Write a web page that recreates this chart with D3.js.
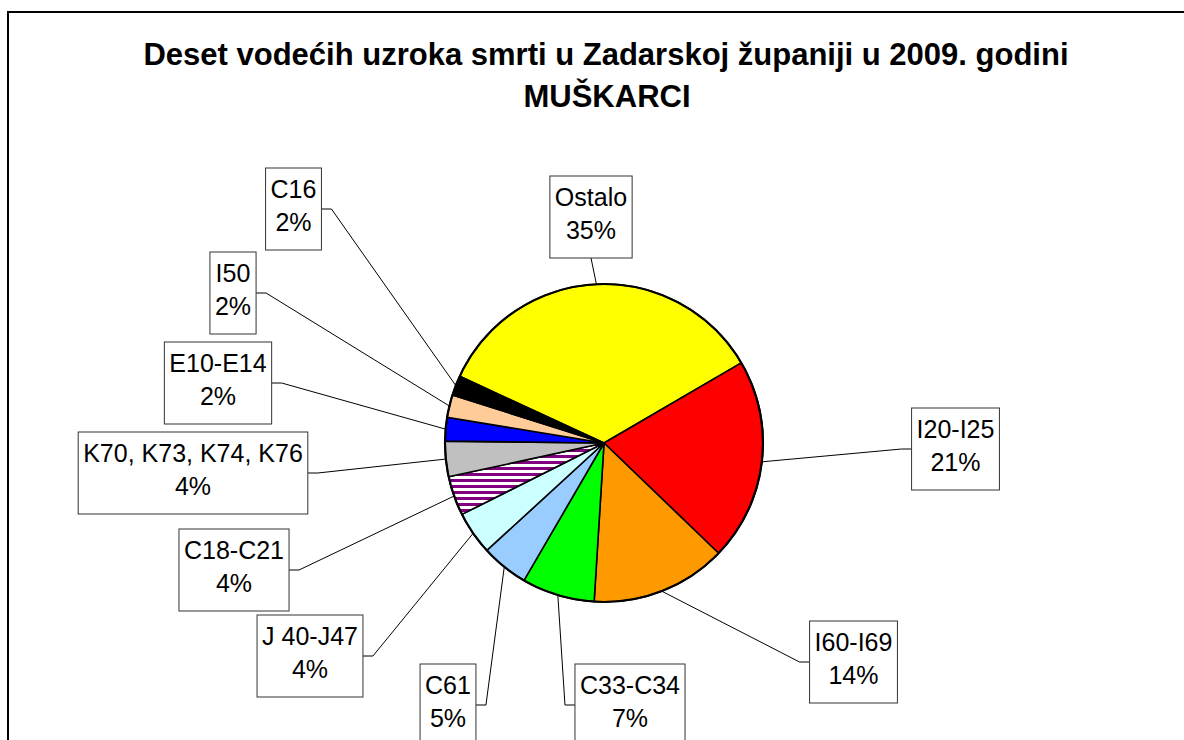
<!DOCTYPE html>
<html>
<head>
<meta charset="utf-8">
<script src="https://cdn.jsdelivr.net/npm/d3@7"></script>
<style>
  html, body { margin: 0; padding: 0; background: #fff; }
  svg { display: block; }
  text { font-family: "Liberation Sans", Arial, sans-serif; }
</style>
</head>
<body>
<svg id="chart" width="1184" height="740"></svg>
<script>
// ---- data ----
const titleLines = ["Deset vodećih uzroka smrti u Zadarskoj županiji u 2009. godini", "MUŠKARCI"];
const categories = ["Ostalo", "I20-I25", "I60-I69", "C33-C34", "C61", "J 40-J47", "C18-C21", "K70, K73, K74, K76", "E10-E14", "I50", "C16"];
const shares = [34.7, 20.6, 13.8, 7.4, 4.8, 4.4, 4.0, 3.6, 2.4, 2.3, 2.0];
const colors = ["#FFFF00", "#FF0000", "#FF9900", "#00FF00", "#99CCFF", "#CCFFFF", "url(#stripes)", "#C0C0C0", "#0000FF", "#FFCC99", "#000000"];

// ---- layout (label boxes: centre x, top y, connector side) ----
const labelLayout = {
  "Ostalo":             { cx: 591,   top: 176, side: "bottom" },
  "I20-I25":            { cx: 955.5, top: 408, side: "left" },
  "I60-I69":            { cx: 853.5, top: 621, side: "left" },
  "C33-C34":            { cx: 630,   top: 664, side: "left" },
  "C61":                { cx: 448,   top: 664, side: "right" },
  "J 40-J47":           { cx: 310,   top: 615, side: "right" },
  "C18-C21":            { cx: 234,   top: 529, side: "right" },
  "K70, K73, K74, K76": { cx: 193,   top: 432, side: "right" },
  "E10-E14":            { cx: 218,   top: 342, side: "right" },
  "I50":                { cx: 233,   top: 252, side: "right" },
  "C16":                { cx: 293.5, top: 168, side: "right" }
};

const cx = 604, cy = 443, R = 159;
const startDeg = -65.2;

const svg = d3.select("#chart");

// pattern for striped slice
const defs = svg.append("defs");
const pat = defs.append("pattern").attr("id", "stripes")
  .attr("patternUnits", "userSpaceOnUse").attr("width", 8).attr("height", 6);
pat.append("rect").attr("width", 8).attr("height", 6).attr("fill", "#fff");
pat.append("rect").attr("width", 8).attr("height", 3).attr("fill", "#800080");

// frame
svg.append("rect").attr("x", 8).attr("y", 12).attr("width", 1300).attr("height", 900)
  .attr("fill", "#fff").attr("stroke", "#000").attr("stroke-width", 2);

// title
const title = svg.append("text").attr("text-anchor", "middle")
  .attr("font-weight", "bold").attr("font-size", 31).attr("fill", "#000");
title.append("tspan").attr("x", 606).attr("y", 65).text(titleLines[0]);
title.append("tspan").attr("x", 607).attr("y", 107).text(titleLines[1]);

// pie
const data = categories.map((c, i) => ({ name: c, value: shares[i], color: colors[i] }));
const total = d3.sum(shares);
const pie = d3.pie().value(d => d.value).sort(null)
  .startAngle(startDeg * Math.PI / 180)
  .endAngle(startDeg * Math.PI / 180 + 2 * Math.PI);
const arcs = pie(data);
const arc = d3.arc().innerRadius(0).outerRadius(R);

const g = svg.append("g").attr("transform", `translate(${cx},${cy})`);
g.selectAll("path.slice").data(arcs).join("path")
  .attr("class", "slice")
  .attr("d", arc)
  .attr("fill", d => d.data.color)
  .attr("stroke", "#000").attr("stroke-width", 1.6).attr("stroke-linejoin", "round");
g.append("circle").attr("r", R).attr("fill", "none").attr("stroke", "#000").attr("stroke-width", 2.2);

// labels
const fontSize = 25, pad = 5, boxH = 82;
const labelG = svg.append("g");
arcs.forEach(a => {
  const L = labelLayout[a.data.name];
  const pct = Math.round(a.data.value / total * 100) + "%";
  const grp = labelG.append("g");
  const rect = grp.append("rect");
  const t1 = grp.append("text").attr("text-anchor", "middle").attr("font-size", fontSize)
    .attr("x", L.cx).attr("y", L.top + 30).text(a.data.name);
  const t2 = grp.append("text").attr("text-anchor", "middle").attr("font-size", fontSize)
    .attr("x", L.cx).attr("y", L.top + 63).text(pct);
  const w = Math.max(t1.node().getComputedTextLength(), t2.node().getComputedTextLength()) + 2 * pad;
  const left = L.cx - w / 2;
  rect.attr("x", left).attr("y", L.top).attr("width", w).attr("height", boxH)
    .attr("fill", "#fff").attr("stroke", "#333").attr("stroke-width", 1);

  const mid = (a.startAngle + a.endAngle) / 2;
  const px = cx + R * Math.sin(mid), py = cy - R * Math.cos(mid);
  let pts;
  if (L.side === "bottom") {
    pts = [[L.cx, L.top + boxH], [px, py]];
  } else if (L.side === "right") {
    const y = L.top + boxH / 2;
    pts = [[left + w, y], [left + w + 10, y], [px, py]];
  } else {
    const y = L.top + boxH / 2;
    pts = [[left, y], [left - 10, y], [px, py]];
  }
  labelG.insert("path", ":first-child").attr("d", d3.line()(pts))
    .attr("fill", "none").attr("stroke", "#000").attr("stroke-width", 1);
});
</script>
</body>
</html>
